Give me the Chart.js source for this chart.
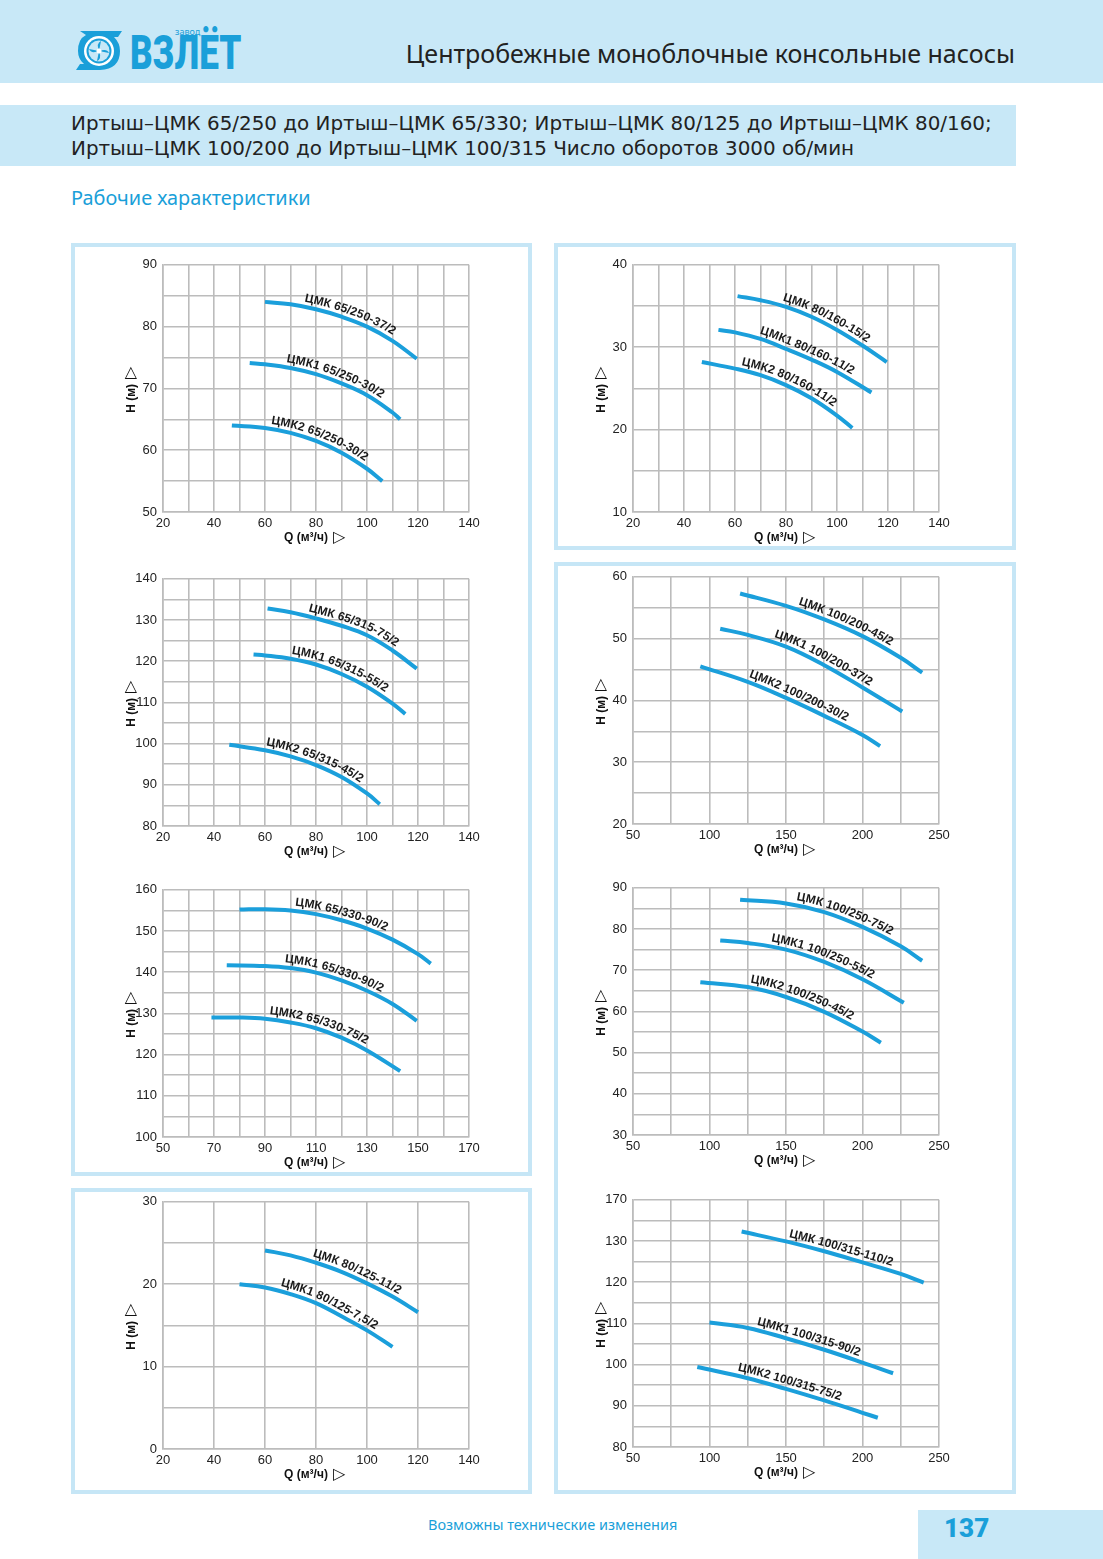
<!DOCTYPE html>
<html lang="ru">
<head>
<meta charset="utf-8">
<title>Центробежные моноблочные консольные насосы</title>
<script src="https://cdn.jsdelivr.net/npm/chart.js@4.4.1/dist/chart.umd.min.js"></script>
<style>
    body { margin: 0; background: #fff; }
    #page { position: relative; width: 1103px; height: 1559px; overflow: hidden; background: #fff; font-family: "Noto Sans", Arial, sans-serif; }
    .band { position: absolute; background: #c8e8f7; }
    .box { position: absolute; box-sizing: border-box; border: 4px solid #c6e6f6; }
    canvas { position: absolute; }
    #head_title { position: absolute; right: 88px; top: 36px; font-size: 25px; color: #222; white-space: nowrap; }
    #sub_text { position: absolute; left: 71px; top: 111px; font-family: "DejaVu Sans", sans-serif; font-size: 19.9px; line-height: 25px; color: #222; white-space: nowrap; }
    #section { position: absolute; left: 71px; top: 184px; font-size: 19.9px; color: #1a9fd9; }
    #footer { position: absolute; left: 428px; top: 1514px; font-size: 14.5px; color: #1a9fd9; }
    #page_no { position: absolute; left: 944px; top: 1513px; font-family: Roboto, Arial, sans-serif; font-weight: 900; font-size: 26px; color: #1a9fd9; }
    #logo_text { position: absolute; left: 130px; top: 25px; font-family: Roboto, Arial, sans-serif; font-weight: 900; font-size: 48px; line-height: 56px; color: #1a9fd9; transform: scaleX(0.73); transform-origin: left top; }
    #logo_small { position: absolute; left: 175px; top: 25px; font-size: 9px; color: #1a9fd9; }
</style>
</head>
<body>
<div id="page">
    <div class="band" style="left:0;top:0;width:1103px;height:83px;"></div>
    <svg style="position:absolute;left:74px;top:29px" width="50" height="44" viewBox="0 0 50 44">
        <path d="M6 2 H48 L44 8 H40 Q46 14 46 22 Q46 40 26 41 H2 L6 35 H10 Q4 30 4 22 Q4 10 12 6 Z" fill="#1a9fd9"/>
        <circle cx="25" cy="22" r="15" fill="#fff"/>
        <circle cx="25" cy="22" r="12.5" fill="#1a9fd9"/>
        <circle cx="25" cy="22" r="10.5" fill="#c8e8f7"/>
        <g fill="#1a9fd9">
            <path d="M25 22 Q22 14 27 12 Q26 17 25 22 Z"/>
            <path d="M25 22 Q33 19 35 24 Q30 23 25 22 Z"/>
            <path d="M25 22 Q28 30 23 32 Q24 27 25 22 Z"/>
            <path d="M25 22 Q17 25 15 20 Q20 21 25 22 Z"/>
        </g>
        <circle cx="25" cy="22" r="2.5" fill="#fff"/>
    </svg>
    <div id="logo_small">завод</div>
    <div id="logo_text">ВЗЛЁТ</div>
    <div id="head_title">Центробежные моноблочные консольные насосы</div>

    <div class="band" style="left:0;top:105px;width:1016px;height:61px;"></div>
    <div id="sub_text">Иртыш–ЦМК 65/250 до Иртыш–ЦМК 65/330; Иртыш–ЦМК 80/125 до Иртыш–ЦМК 80/160;<br>Иртыш–ЦМК 100/200 до Иртыш–ЦМК 100/315 Число оборотов 3000 об/мин</div>
    <div id="section">Рабочие характеристики</div>

    <div class="box" style="left:71px;top:243px;width:461px;height:933px;"></div>
    <div class="box" style="left:71px;top:1188px;width:461px;height:306px;"></div>
    <div class="box" style="left:554px;top:243px;width:462px;height:307px;"></div>
    <div class="box" style="left:554px;top:562px;width:462px;height:932px;"></div>

    <canvas id="c_65_250" width="371" height="297" style="left:118px;top:251px"></canvas>
    <canvas id="c_80_160" width="371" height="297" style="left:588px;top:251px"></canvas>
    <canvas id="c_65_315" width="371" height="297" style="left:118px;top:565px"></canvas>
    <canvas id="c_100_200" width="371" height="297" style="left:588px;top:563px"></canvas>
    <canvas id="c_65_330" width="371" height="297" style="left:118px;top:876px"></canvas>
    <canvas id="c_100_250" width="371" height="297" style="left:588px;top:874px"></canvas>
    <canvas id="c_80_125" width="371" height="297" style="left:118px;top:1188px"></canvas>
    <canvas id="c_100_315" width="371" height="297" style="left:588px;top:1186px"></canvas>

    <div id="footer">Возможны технические изменения</div>
    <div class="band" style="left:918px;top:1510px;width:185px;height:49px;"></div>
    <div id="page_no">137</div>
</div>

<script>
// ЦМК 65/250
const q_65_250_37 = [60, 70, 80, 90, 100, 110, 119.5];
const h_65_250_37 = [84.0, 83.6, 82.8, 81.6, 80.0, 77.7, 74.8];
const q_65_250_30 = [54, 60, 70, 80, 90, 100, 110, 113];
const h_65_250_30 = [74.1, 73.9, 73.3, 72.3, 70.8, 68.9, 66.1, 65.0];
const q_65_250_30b = [47, 60, 70, 80, 90, 100, 106];
const h_65_250_30b = [64.0, 63.6, 62.8, 61.5, 59.6, 57.0, 55.0];
const names_65_250 = ['ЦМК 65/250-37/2', 'ЦМК1 65/250-30/2', 'ЦМК2 65/250-30/2'];

// ЦМК 80/160
const q_80_160_15 = [61, 70, 80, 90, 100, 110, 119.5];
const h_80_160_15 = [36.2, 35.7, 34.9, 33.7, 32.1, 30.2, 28.2];
const q_80_160_11 = [53.5, 60, 70, 80, 90, 100, 113.5];
const h_80_160_11 = [32.1, 31.8, 31.0, 29.8, 28.5, 27.0, 24.5];
const q_80_160_11b = [47, 60, 70, 80, 90, 100, 106];
const h_80_160_11b = [28.2, 27.4, 26.6, 25.4, 23.8, 21.7, 20.2];
const names_80_160 = ['ЦМК 80/160-15/2', 'ЦМК1 80/160-11/2', 'ЦМК2 80/160-11/2'];

// ЦМК 65/315
const q_65_315_75 = [61, 70, 80, 90, 100, 110, 119.5];
const h_65_315_75 = [132.8, 131.9, 130.4, 128.6, 126.3, 122.6, 118.2];
const q_65_315_55 = [55.5, 60, 70, 80, 90, 100, 110, 115];
const h_65_315_55 = [121.6, 121.4, 120.6, 119.2, 116.9, 113.8, 109.7, 107.2];
const q_65_315_45 = [46, 60, 70, 80, 90, 100, 105];
const h_65_315_45 = [99.7, 98.4, 96.9, 94.8, 91.9, 87.9, 85.3];
const names_65_315 = ['ЦМК 65/315-75/2', 'ЦМК1 65/315-55/2', 'ЦМК2 65/315-45/2'];

// ЦМК 100/200
const q_100_200_45 = [120, 150, 175, 200, 225, 239];
const h_100_200_45 = [57.3, 55.3, 53.1, 50.4, 46.9, 44.5];
const q_100_200_37 = [107, 125, 150, 175, 200, 226];
const h_100_200_37 = [51.6, 50.6, 48.7, 45.7, 42.1, 38.2];
const q_100_200_30 = [94, 125, 150, 175, 200, 211.5];
const h_100_200_30 = [45.5, 43.0, 40.4, 37.5, 34.4, 32.6];
const names_100_200 = ['ЦМК 100/200-45/2', 'ЦМК1 100/200-37/2', 'ЦМК2 100/200-30/2'];

// ЦМК 65/330
const q_65_330_90 = [80, 90, 100, 110, 120, 130, 140, 150, 155];
const h_65_330_90 = [155.2, 155.3, 155.0, 154.1, 152.6, 150.6, 147.9, 144.4, 142.1];
const q_65_330_90b = [75, 90, 100, 110, 120, 130, 140, 149.5];
const h_65_330_90b = [141.7, 141.5, 141.0, 139.9, 138.0, 135.5, 132.3, 128.2];
const q_65_330_75 = [69, 80, 90, 100, 110, 120, 130, 143];
const h_65_330_75 = [129.0, 129.0, 128.7, 127.8, 126.4, 124.1, 121.0, 116.0];
const names_65_330 = ['ЦМК 65/330-90/2', 'ЦМК1 65/330-90/2', 'ЦМК2 65/330-75/2'];

// ЦМК 100/250
const q_100_250_75 = [120, 150, 175, 200, 225, 239];
const h_100_250_75 = [87.1, 86.2, 84.1, 80.5, 75.8, 72.3];
const q_100_250_55 = [107, 125, 150, 175, 200, 227];
const h_100_250_55 = [77.2, 76.6, 75.0, 72.0, 67.8, 62.1];
const q_100_250_45 = [94, 125, 150, 175, 200, 212];
const h_100_250_45 = [67.1, 65.9, 63.5, 59.9, 55.1, 52.4];
const names_100_250 = ['ЦМК 100/250-75/2', 'ЦМК1 100/250-55/2', 'ЦМК2 100/250-45/2'];

// ЦМК 80/125
const q_80_125_11 = [60, 70, 80, 90, 100, 110, 120];
const h_80_125_11 = [24.1, 23.5, 22.6, 21.5, 20.1, 18.5, 16.6];
const q_80_125_75 = [50, 60, 70, 80, 90, 100, 110];
const h_80_125_75 = [20.0, 19.6, 18.8, 17.7, 16.1, 14.4, 12.4];
const names_80_125 = ['ЦМК 80/125-11/2', 'ЦМК1 80/125-7,5/2'];

// ЦМК 100/315
const q_100_315_110 = [121, 150, 175, 200, 225, 240];
const h_100_315_110 = [132.3, 129.9, 127.5, 124.8, 122.0, 119.9];
const q_100_315_90 = [100, 125, 150, 175, 200, 220];
const h_100_315_90 = [110.2, 108.9, 106.4, 103.6, 100.5, 97.9];
const q_100_315_75 = [92, 125, 150, 175, 200, 210];
const h_100_315_75 = [99.4, 96.7, 94.1, 91.3, 88.3, 87.1];
const names_100_315 = ['ЦМК 100/315-110/2', 'ЦМК1 100/315-90/2', 'ЦМК2 100/315-75/2'];
// the printed sheet labels its top line 170 (it is the 140 line)
const hTicks_100_315 = ['80', '90', '100', '110', '120', '130', '170'];

const xTitle = 'Q (м³/ч)';
const yTitle = 'H (м)';
const titleGap = '      ';   // room left for the arrow glyph
const lineColor = '#1b9fdb';
const gridColor = '#bcbcbc';
const fontFamily = '"Liberation Sans", Arial, sans-serif';
const tickFont = { family: fontFamily, size: 13 };
const titleFont = { family: fontFamily, size: 12, weight: 'bold' };

// model names written along the curves, char by char
const curveLabels = {
    id: 'curveLabels',
    afterDatasetsDraw(chart, args, opts) {
        if (!opts.names) return;
        const ctx = chart.ctx;
        const xs = chart.scales.x;
        ctx.save();
        ctx.font = 'bold 12px ' + fontFamily;
        ctx.fillStyle = '#1a1a1a';
        ctx.textAlign = 'center';
        ctx.textBaseline = 'alphabetic';
        opts.names.forEach((name, i) => {
            const pts = chart.getDatasetMeta(i).data;
            const path = [];
            for (let k = 0; k < pts.length - 1; k++) {
                const a = pts[k], b = pts[k + 1];
                const c1x = a.cp2x ?? a.x, c1y = a.cp2y ?? a.y;
                const c2x = b.cp1x ?? b.x, c2y = b.cp1y ?? b.y;
                for (let s = 0; s < 16; s++) {
                    const t = s / 16, u = 1 - t;
                    path.push({
                        x: u * u * u * a.x + 3 * u * u * t * c1x + 3 * u * t * t * c2x + t * t * t * b.x,
                        y: u * u * u * a.y + 3 * u * u * t * c1y + 3 * u * t * t * c2y + t * t * t * b.y
                    });
                }
            }
            path.push({ x: pts[pts.length - 1].x, y: pts[pts.length - 1].y });
            const len = [0];
            for (let k = 1; k < path.length; k++) {
                len.push(len[k - 1] + Math.hypot(path[k].x - path[k - 1].x, path[k].y - path[k - 1].y));
            }
            const at = (d) => {
                let k = 1;
                while (k < path.length - 1 && len[k] < d) k++;
                const p0 = path[k - 1], p1 = path[k];
                const seg = len[k] - len[k - 1] || 1;
                const f = (d - len[k - 1]) / seg;
                const dx = p1.x - p0.x, dy = p1.y - p0.y, n = Math.hypot(dx, dy) || 1;
                return { x: p0.x + dx * f, y: p0.y + dy * f, tx: dx / n, ty: dy / n };
            };
            const startPx = xs.getPixelForValue(opts.startQ[i]);
            let d = 0;
            for (let k = 1; k < path.length; k++) {
                if (path[k].x >= startPx) {
                    const f = (startPx - path[k - 1].x) / ((path[k].x - path[k - 1].x) || 1);
                    d = len[k - 1] + (len[k] - len[k - 1]) * f;
                    break;
                }
            }
            for (const ch of name) {
                const w = ctx.measureText(ch).width;
                const p = at(d + w / 2);
                ctx.save();
                ctx.translate(p.x + p.ty * opts.offset, p.y - p.tx * opts.offset);
                ctx.rotate(Math.atan2(p.ty, p.tx));
                ctx.fillText(ch, 0, 0);
                ctx.restore();
                d += w;
            }
        });
        ctx.restore();
    }
};

// the hollow arrow after each axis title, a size larger than the title
const axisArrows = {
    id: 'axisArrows',
    afterDraw(chart) {
        const ctx = chart.ctx;
        const area = chart.chartArea;
        const xs = chart.scales.x, ys = chart.scales.y;
        ctx.save();
        ctx.font = 'bold 12px ' + fontFamily;
        const half = 14.4 / 2;
        const put = (text, cx, cy, rot) => {
            const full = ctx.measureText(text + titleGap).width;
            const own = ctx.measureText(text).width;
            ctx.save();
            ctx.translate(cx, cy);
            ctx.rotate(rot);
            ctx.font = '16px "DejaVu Sans", sans-serif';
            ctx.fillStyle = '#111';
            ctx.textAlign = 'left';
            ctx.textBaseline = 'middle';
            ctx.fillText('▷', -full / 2 + own + 5, 0);
            ctx.restore();
            ctx.font = 'bold 12px ' + fontFamily;
        };
        put(xTitle, (area.left + area.right) / 2, xs.bottom - (half + 3), 0);
        put(yTitle, ys.left + half + 6, (area.top + area.bottom) / 2, -Math.PI / 2);
        ctx.restore();
    }
};
Chart.register(curveLabels, axisArrows);

function toPoints(q, h) {
    return q.map((v, i) => ({ x: v, y: h[i] }));
}

function pumpChart(id, qs, hs, names, startQ, x, y) {
    const datasets = qs.map((q, i) => ({
        label: names[i],
        data: toPoints(q, hs[i]),
        borderColor: lineColor,
        borderWidth: 4,
        borderCapStyle: 'butt',
        pointRadius: 0,
        tension: 0.4,
        fill: false
    }));
    return new Chart(document.getElementById(id), {
        type: 'line',
        data: { datasets: datasets },
        options: {
            responsive: false,
            animation: false,
            layout: { padding: { left: 0, top: 10, right: 20, bottom: 0 } },
            plugins: {
                legend: { display: false },
                tooltip: { enabled: false },
                curveLabels: { names: names, startQ: startQ, offset: 5 }
            },
            scales: {
                x: {
                    type: 'linear',
                    min: x.min,
                    max: x.max,
                    grid: { color: gridColor, lineWidth: 1.6, drawTicks: false },
                    border: { color: gridColor, width: 1.6 },
                    ticks: {
                        stepSize: x.step,
                        autoSkip: false,
                        maxRotation: 0,
                        padding: 4,
                        color: '#222',
                        font: tickFont,
                        callback: (v) => ((v - x.min) % x.every === 0 ? String(v) : '')
                    },
                    title: { display: true, text: xTitle + titleGap, color: '#111', font: titleFont, padding: { top: 0, bottom: 3 } },
                    afterFit: (scale) => { scale.height = 36; }
                },
                y: {
                    min: y.min,
                    max: y.max,
                    grid: { color: gridColor, lineWidth: 1.6, drawTicks: false },
                    border: { color: gridColor, width: 1.6 },
                    ticks: {
                        stepSize: y.step,
                        autoSkip: false,
                        padding: 6,
                        color: '#222',
                        font: tickFont,
                        callback: (v) => {
                            if ((v - y.min) % y.every !== 0) return '';
                            return y.labels ? y.labels[(v - y.min) / y.every] : String(v);
                        }
                    },
                    title: { display: true, text: yTitle + titleGap, color: '#111', font: titleFont, padding: { top: 6, bottom: 0 } },
                    afterFit: (scale) => { scale.width = 45; }
                }
            }
        }
    });
}

var chart_65_250 = pumpChart('c_65_250',
    [q_65_250_37, q_65_250_30, q_65_250_30b], [h_65_250_37, h_65_250_30, h_65_250_30b],
    names_65_250, [75, 68, 62],
    { min: 20, max: 140, step: 10, every: 20 }, { min: 50, max: 90, step: 5, every: 10 });

var chart_80_160 = pumpChart('c_80_160',
    [q_80_160_15, q_80_160_11, q_80_160_11b], [h_80_160_15, h_80_160_11, h_80_160_11b],
    names_80_160, [78, 69, 62],
    { min: 20, max: 140, step: 10, every: 20 }, { min: 10, max: 40, step: 5, every: 10 });

var chart_65_315 = pumpChart('c_65_315',
    [q_65_315_75, q_65_315_55, q_65_315_45], [h_65_315_75, h_65_315_55, h_65_315_45],
    names_65_315, [76.5, 70, 60],
    { min: 20, max: 140, step: 10, every: 20 }, { min: 80, max: 140, step: 5, every: 10 });

var chart_100_200 = pumpChart('c_100_200',
    [q_100_200_45, q_100_200_37, q_100_200_30], [h_100_200_45, h_100_200_37, h_100_200_30],
    names_100_200, [157, 141, 124.5],
    { min: 50, max: 250, step: 25, every: 50 }, { min: 20, max: 60, step: 5, every: 10 });

var chart_65_330 = pumpChart('c_65_330',
    [q_65_330_90, q_65_330_90b, q_65_330_75], [h_65_330_90, h_65_330_90b, h_65_330_75],
    names_65_330, [101.5, 97.5, 91.5],
    { min: 50, max: 170, step: 10, every: 20 }, { min: 100, max: 160, step: 5, every: 10 });

var chart_100_250 = pumpChart('c_100_250',
    [q_100_250_75, q_100_250_55, q_100_250_45], [h_100_250_75, h_100_250_55, h_100_250_45],
    names_100_250, [156, 139.5, 126],
    { min: 50, max: 250, step: 25, every: 50 }, { min: 30, max: 90, step: 5, every: 10 });

var chart_80_125 = pumpChart('c_80_125',
    [q_80_125_11, q_80_125_75], [h_80_125_11, h_80_125_75],
    names_80_125, [78, 65.5],
    { min: 20, max: 140, step: 20, every: 20 }, { min: 0, max: 30, step: 5, every: 10 });

var chart_100_315 = pumpChart('c_100_315',
    [q_100_315_110, q_100_315_90, q_100_315_75], [h_100_315_110, h_100_315_90, h_100_315_75],
    names_100_315, [151, 130, 117.5],
    { min: 50, max: 250, step: 25, every: 50 }, { min: 80, max: 140, step: 5, every: 10, labels: hTicks_100_315 });
</script>
</body>
</html>
